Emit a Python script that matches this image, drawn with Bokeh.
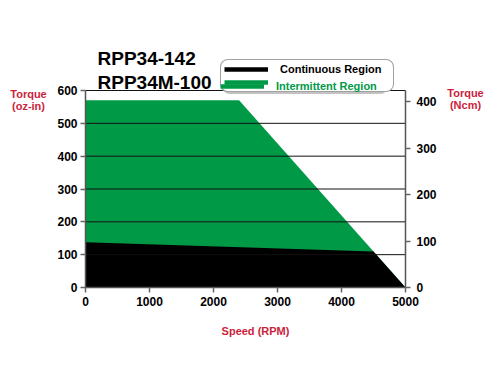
from bokeh.plotting import figure
from bokeh.models import (Range1d, LinearAxis, Label, Legend, LegendItem,
                          FixedTicker)
from bokeh.embed import file_html
from bokeh.resources import INLINE

# ---- data ----
title_lines = ["RPP34-142", "RPP34M-100"]
inter_speed = [0, 2400, 5000]
inter_torque = [570, 570, 0]
cont_speed = [0, 4500, 5000]
cont_torque = [138, 110, 0]
x_ticks = [0, 1000, 2000, 3000, 4000, 5000]
y_ticks = [0, 100, 200, 300, 400, 500, 600]
ncm_ticks = [0, 100, 200, 300, 400]
OZIN_TO_NCM = 0.70615
X_MAX = 5000
Y_MAX = 600

GREEN = "#009a47"
RED = "#cc1e3c"
FONT = "Liberation Sans"

# plot-area placement on the canvas (screen px)
FL, FR, FT, FB = 85, 405, 90, 287
W, H = 500, 375
XS = X_MAX / (FR - FL)
YS = Y_MAX / (FB - FT)
x_lo, x_hi = -FL * XS, X_MAX + (W - FR) * XS
y_lo, y_hi = -(H - FB) * YS, Y_MAX + FT * YS

p = figure(width=W, height=H, output_backend="svg", toolbar_location=None,
           x_range=Range1d(x_lo, x_hi), y_range=Range1d(y_lo, y_hi),
           min_border_left=0, min_border_right=0,
           min_border_top=0, min_border_bottom=0)
p.outline_line_color = None
p.background_fill_color = "white"
p.border_fill_color = "white"
p.xgrid.visible = False
p.ygrid.visible = False

p.extra_y_ranges = {"ncm": Range1d(y_lo * OZIN_TO_NCM, y_hi * OZIN_TO_NCM)}

p.varea(x=inter_speed, y1=0, y2=inter_torque, fill_color=GREEN)
p.varea(x=cont_speed, y1=0, y2=cont_torque, fill_color="black")
# horizontal grid lines over the filled regions
grid_y = y_ticks[1:]
p.segment(x0=[0] * len(grid_y), x1=[X_MAX] * len(grid_y), y0=grid_y, y1=grid_y,
          line_color="#111111", line_width=1)


def style_axis(ax, standoff):
    ax.axis_line_color = "#555555"
    ax.axis_line_width = 1.5
    ax.major_tick_line_color = "#666666"
    ax.major_tick_line_width = 1.5
    ax.major_tick_out = 5
    ax.major_tick_in = 0
    ax.minor_tick_line_color = None
    ax.major_label_text_font = FONT
    ax.major_label_text_font_style = "bold"
    ax.major_label_text_font_size = "12px"
    ax.major_label_text_color = "black"
    ax.major_label_standoff = standoff


xax = p.xaxis[0]
yax = p.yaxis[0]
xax.ticker = FixedTicker(ticks=x_ticks)
yax.ticker = FixedTicker(ticks=y_ticks)
xax.fixed_location = 0
yax.fixed_location = 0
xax.bounds = (0, X_MAX)
yax.bounds = (0, Y_MAX)
style_axis(xax, 4)
style_axis(yax, 3)

rax = LinearAxis(y_range_name="ncm", ticker=FixedTicker(ticks=ncm_ticks),
                 fixed_location=X_MAX, bounds=(0, Y_MAX * OZIN_TO_NCM))
style_axis(rax, 6)
p.add_layout(rax, "right")


# helpers mapping screen px to data coords for text placement
def dx(sxp):
    return x_lo + sxp * XS


def dy(syp):
    return y_lo + (H - syp) * YS


def add_text(txt, x, y, size, color, align="left"):
    p.add_layout(Label(x=dx(x), y=dy(y), text=txt, text_font=FONT,
                       text_font_style="bold", text_font_size=size,
                       text_color=color, text_align=align,
                       text_baseline="alphabetic"))


add_text(title_lines[0], 97, 58, "19px", "black")
add_text(title_lines[1], 97, 82, "19px", "black")
add_text("Torque", 28, 93, "11px", RED, "center")
add_text("(oz-in)", 28, 105, "11px", RED, "center")
add_text("Torque", 465, 92, "11px", RED, "center")
add_text("(Ncm)", 465, 104, "11px", RED, "center")
add_text("Speed (RPM)", 255, 330, "11px", RED, "center")

# legend (glyph-only renderers with no visible data)
nan = float("nan")
r_cont = p.line(x=[nan], y=[nan], line_color="black", line_width=4.5)
r_inter = p.line(x=[nan], y=[nan], line_color=GREEN, line_width=4.5)

leg_loc = (217 + 3, H - 92)
common = dict(glyph_width=44, glyph_height=12,
              label_height=12, label_width=110, label_standoff=12,
              padding=3, spacing=1, margin=0,
              label_text_font=FONT, label_text_font_style="bold",
              label_text_font_size="11px")

shadow = Legend(items=[LegendItem(label=" ", renderers=[r_cont]),
                       LegendItem(label=" ", renderers=[r_inter])],
                location=(leg_loc[0] + 2, leg_loc[1] - 2),
                label_text_alpha=0.0, border_line_color=None,
                background_fill_color="#9a9a9a", background_fill_alpha=0.6,
                **common)
leg1 = Legend(items=[LegendItem(label="Continuous Region", renderers=[r_cont]),
                     LegendItem(label=" ", renderers=[r_inter])],
              location=leg_loc,
              label_text_color="black", border_line_color="#444444",
              border_line_width=1.2, background_fill_color="white",
              background_fill_alpha=1.0, **common)
if "border_radius" in Legend.properties():
    leg1.border_radius = 8
    shadow.border_radius = 8
leg2 = Legend(items=[LegendItem(label="Intermittent Region", renderers=[r_inter])],
              location=leg_loc,
              label_text_color=GREEN, border_line_color=None,
              background_fill_alpha=0.0, **common)
p.add_layout(shadow, "center")
p.add_layout(leg1, "center")
p.add_layout(leg2, "center")

open("out.html", "w").write(file_html(p, INLINE))
